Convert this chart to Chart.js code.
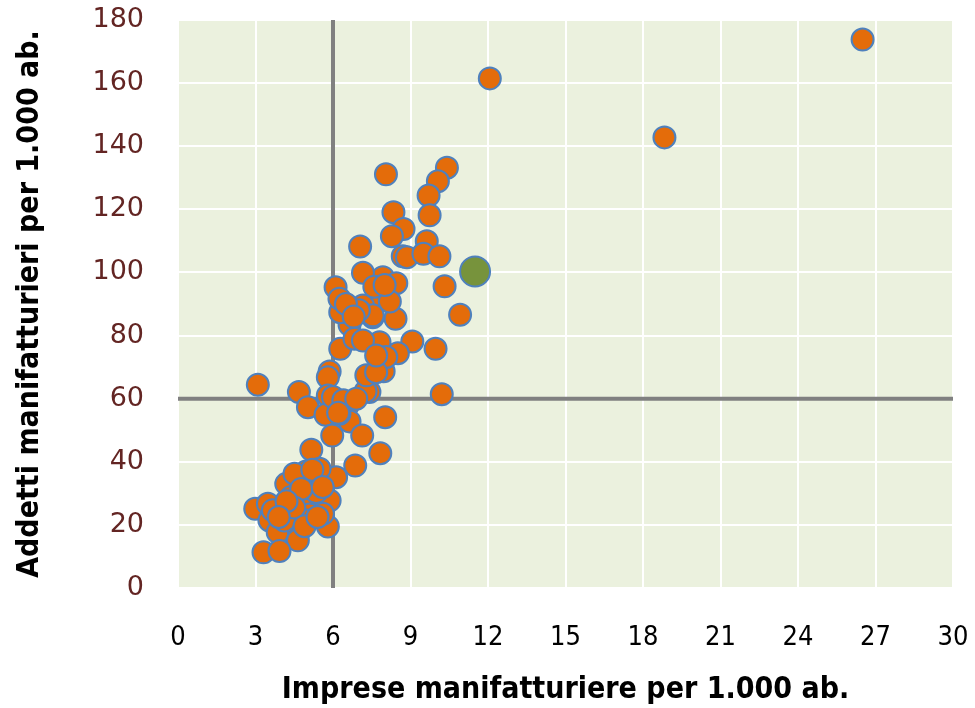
<!DOCTYPE html>
<html>
<head>
<meta charset="utf-8">
<script src="https://cdn.jsdelivr.net/npm/chart.js@4"></script>
<style>
  html, body { margin: 0; padding: 0; background: #fff; }
  #wrap { width: 975px; height: 708px; }
</style>
</head>
<body>
<div id="wrap"><canvas id="chart" width="975" height="708"></canvas></div>
<script>
// imprese manifatturiere per 1.000 ab. (x) / addetti per 1.000 ab. (y)
const comuniX = [
    26.5, 12.07, 18.83,
    10.41, 10.06, 9.70, 9.74, 8.05, 8.34, 8.73, 8.28, 9.63, 8.70, 8.86, 9.50, 10.12, 10.32, 7.93, 8.45,
    7.05, 7.16, 6.10,
    10.92, 9.97, 9.07, 8.51, 7.96, 10.21, 8.02, 8.42, 7.54, 7.77, 7.80, 8.06, 7.41,
    3.09, 4.68, 5.03, 5.87, 5.80, 6.28, 6.64, 6.28, 6.25, 6.83, 7.16, 7.16, 7.54, 5.80, 5.71, 6.57, 6.64, 7.26, 6.25, 7.29, 7.67,
    5.97, 7.13, 7.83, 6.86, 5.16, 6.12, 4.96, 4.19, 5.87, 5.80, 2.99, 3.48, 5.09, 4.32, 5.09, 3.54, 3.86, 4.68, 4.64, 3.31, 3.93,
    5.48, 4.51, 5.35, 3.67, 4.12, 4.96, 5.61, 4.38, 4.77, 7.67,
    6.00, 6.40, 6.90, 7.00, 6.50, 7.60, 8.20, 8.00, 4.50, 4.90, 5.20, 5.60, 4.20, 3.90, 5.40, 6.20, 6.80
];
const comuniY = [
    173.8, 161.5, 142.8,
    133.2, 128.9, 124.4, 118.1, 131.1, 119.1, 113.8, 111.5, 109.9, 105.1, 104.8, 105.9, 105.1, 95.6, 98.5, 96.6,
    108.2, 99.9, 95.3,
    86.6, 75.8, 78.1, 74.4, 68.7, 61.4, 54.1, 85.3, 85.8, 91.1, 77.9, 73.2, 62.1,
    64.4, 62.1, 57.3, 68.6, 66.8, 75.8, 83.4, 87.4, 91.7, 79.0, 78.4, 89.5, 86.4, 61.0, 54.9, 57.8, 52.8, 62.3, 55.2, 67.4, 68.4,
    48.3, 48.3, 42.7, 38.8, 43.8, 35.1, 36.9, 33.0, 27.7, 19.5, 25.1, 26.7, 29.3, 24.6, 23.3, 21.4, 17.7, 18.0, 15.1, 11.3, 11.7,
    37.8, 36.2, 30.4, 24.6, 21.4, 21.4, 23.5, 28.8, 31.4, 73.7,
    60.5, 59.5, 60.0, 88.0, 90.0, 95.5, 90.8, 96.0, 25.5, 19.6, 37.5, 32.0, 27.5, 22.5, 22.5, 55.5, 86.0
];
// valore medio (punto verde)
const mediaX = [11.5];
const mediaY = [100.3];

const xTicks = [0, 3, 6, 9, 12, 15, 18, 21, 24, 27, 30];
const yTicks = [0, 20, 40, 60, 80, 100, 120, 140, 160, 180];
const crossX = 6;
const crossY = 60;

const plotBg = {
    id: 'plotBg',
    beforeDraw(chart) {
        const { ctx, chartArea: a } = chart;
        ctx.save();
        ctx.fillStyle = '#EBF1DE';
        ctx.fillRect(a.left, a.top, a.right - a.left, a.bottom - a.top);
        ctx.restore();
    }
};

const crossLines = {
    id: 'crossLines',
    beforeDatasetsDraw(chart) {
        const { ctx, chartArea: a, scales: { x, y } } = chart;
        const px = x.getPixelForValue(crossX);
        const py = y.getPixelForValue(crossY);
        ctx.save();
        ctx.strokeStyle = '#808080';
        ctx.lineWidth = 4;
        ctx.beginPath();
        ctx.moveTo(px, a.top);
        ctx.lineTo(px, a.bottom);
        ctx.moveTo(a.left, py);
        ctx.lineTo(a.right, py);
        ctx.stroke();
        ctx.restore();
    }
};

const titleFont = { family: 'Liberation Sans Narrow, DejaVu Sans Condensed, sans-serif', size: 30, weight: 'bold' };

new Chart(document.getElementById('chart'), {
    type: 'scatter',
    data: {
        datasets: [
            {
                label: 'Media',
                data: mediaX.map((v, i) => ({ x: v, y: mediaY[i] })),
                backgroundColor: '#77933C',
                borderColor: '#4F81BD',
                borderWidth: 2,
                pointRadius: 15
            },
            {
                label: 'Comuni',
                data: comuniX.map((v, i) => ({ x: v, y: comuniY[i] })),
                backgroundColor: '#E46C0A',
                borderColor: '#4F81BD',
                borderWidth: 2,
                pointRadius: 11
            }
        ]
    },
    plugins: [plotBg, crossLines],
    options: {
        responsive: false,
        animation: false,
        layout: { autoPadding: false, padding: { top: 20, right: 22, left: 0, bottom: 0 } },
        plugins: { legend: { display: false }, tooltip: { enabled: false } },
        scales: {
            x: {
                type: 'linear',
                min: 0, max: 30,
                afterBuildTicks: s => { s.ticks = xTicks.map(v => ({ value: v })); },
                afterFit: s => { s.height = 120; s.paddingLeft = 0; s.paddingRight = 0; },
                grid: { color: '#FFFFFF', lineWidth: 2, drawTicks: false },
                border: { display: false },
                ticks: { color: '#000', padding: 34, font: { family: 'Liberation Sans Narrow, DejaVu Sans Condensed, sans-serif', size: 27 } },
                title: {
                    display: true,
                    text: 'Imprese manifatturiere per 1.000 ab.',
                    color: '#000',
                    font: titleFont,
                    padding: { top: 10, bottom: 0 }
                }
            },
            y: {
                type: 'linear',
                min: 0, max: 180,
                afterBuildTicks: s => { s.ticks = yTicks.map(v => ({ value: v })); },
                afterFit: s => { s.width = 178; s.paddingTop = 0; s.paddingBottom = 0; },
                grid: { color: '#FFFFFF', lineWidth: 2, drawTicks: false },
                border: { display: false },
                ticks: { color: '#632523', padding: 34, font: { family: 'DejaVu Sans, sans-serif', size: 27 } },
                title: {
                    display: true,
                    text: 'Addetti manifatturieri per 1.000 ab.',
                    color: '#000',
                    font: titleFont,
                    padding: { top: 12, bottom: 0 }
                }
            }
        }
    }
});
</script>
</body>
</html>
